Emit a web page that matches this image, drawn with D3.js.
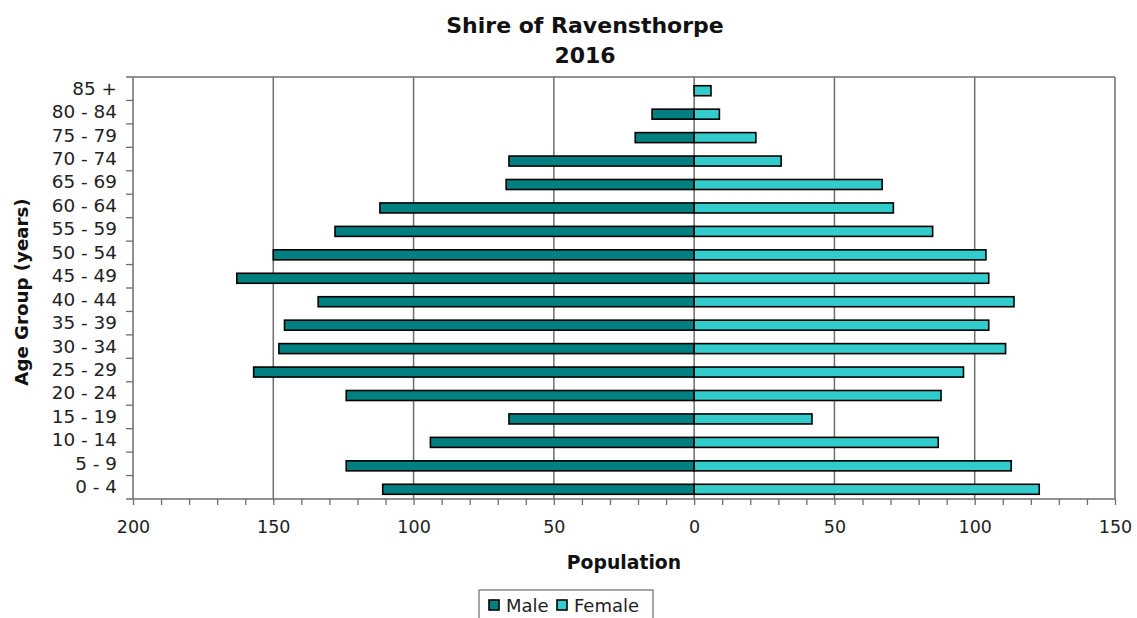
<!DOCTYPE html>
<html>
<head>
<meta charset="utf-8">
<script src="https://cdn.jsdelivr.net/npm/d3@7"></script>
<style>
  html, body { margin: 0; padding: 0; background: #fff; }
  svg { display: block; font-family: "DejaVu Sans", Verdana, sans-serif; }
</style>
</head>
<body>
<svg id="chart" width="1137" height="618"></svg>
<script>
// ---- data ----
const ageGroups = ["0 - 4","5 - 9","10 - 14","15 - 19","20 - 24","25 - 29","30 - 34","35 - 39","40 - 44","45 - 49","50 - 54","55 - 59","60 - 64","65 - 69","70 - 74","75 - 79","80 - 84","85 +"];
const maleValues   = [111,124,94,66,124,157,148,146,134,163,150,128,112,67,66,21,15,0];
const femaleValues = [123,113,87,42,88,96,111,105,114,105,104,85,71,67,31,22,9,6];
const xTickValues = [-200,-150,-100,-50,0,50,100,150];
const seriesNames = ["Male","Female"];
const seriesColors = ["#008080","#33CCCC"];
const titleLines = ["Shire of Ravensthorpe","2016"];

(function () {
const svg = d3.select("#chart");
const pL = 133, pR = 1115, pT = 77, pB = 499;

const x = d3.scaleLinear().domain([-200,150]).range([pL,pR]);
const y = d3.scaleBand().domain(ageGroups.slice().reverse()).range([pT,pB]).padding(0);

// grid lines
svg.append("g").selectAll("line").data(xTickValues.filter(v => v > -200 && v < 150))
  .join("line")
  .attr("x1", d => x(d)).attr("x2", d => x(d))
  .attr("y1", pT).attr("y2", pB)
  .attr("stroke", "#6e6e6e").attr("stroke-width", 1.5);

// border top/right
svg.append("line").attr("x1", pL-7).attr("x2", pR).attr("y1", pT).attr("y2", pT)
  .attr("stroke", "#6e6e6e").attr("stroke-width", 1.5);
svg.append("line").attr("x1", pR).attr("x2", pR).attr("y1", pT).attr("y2", pB)
  .attr("stroke", "#6e6e6e").attr("stroke-width", 1.5);

// bars
const rows = ageGroups.map((g,i) => ({g, m: maleValues[i], f: femaleValues[i]}));
const barH = 10, barOff = 2;
const bars = svg.append("g");
bars.selectAll("rect.m").data(rows.filter(d => d.m > 0)).join("rect")
  .attr("class", "m")
  .attr("x", d => x(-d.m)).attr("width", d => x(0) - x(-d.m))
  .attr("y", d => y(d.g) + y.bandwidth()/2 - barH/2 + barOff).attr("height", barH)
  .attr("fill", seriesColors[0]).attr("stroke", "#000").attr("stroke-width", 1.6);
bars.selectAll("rect.f").data(rows.filter(d => d.f > 0)).join("rect")
  .attr("class", "f")
  .attr("x", x(0)).attr("width", d => x(d.f) - x(0))
  .attr("y", d => y(d.g) + y.bandwidth()/2 - barH/2 + barOff).attr("height", barH)
  .attr("fill", seriesColors[1]).attr("stroke", "#000").attr("stroke-width", 1.6);

// x axis
const xAxis = svg.append("g").attr("transform", `translate(0,${pB})`)
  .call(d3.axisBottom(x).tickValues(d3.range(-200,151,10)).tickSize(6)
    .tickFormat(d => xTickValues.includes(d) ? Math.abs(d) : ""));
xAxis.select(".domain").attr("stroke", "#6e6e6e").attr("stroke-width", 1.5)
  .attr("d", `M${pL-7},0H${pR}`);
xAxis.selectAll(".tick line").attr("stroke", "#6e6e6e").attr("stroke-width", 1.3);
xAxis.selectAll(".tick text").attr("font-size", 17.5).attr("fill", "#222").attr("dy", "1.4em")
  .attr("font-family", "DejaVu Sans, Verdana, sans-serif");

// y axis
const yAxis = svg.append("g").attr("transform", `translate(${pL},0)`)
  .call(d3.axisLeft(y).tickSize(0).tickPadding(16));
yAxis.select(".domain").attr("stroke", "#6e6e6e").attr("stroke-width", 1.5)
  .attr("d", `M0,${pT}V${pB}`);
yAxis.selectAll(".tick text").attr("font-size", 18.4).attr("fill", "#222")
  .attr("font-family", "DejaVu Sans, Verdana, sans-serif");
// category boundary ticks
svg.append("g").selectAll("line").data(d3.range(1, ageGroups.length))
  .join("line")
  .attr("x1", pL-7).attr("x2", pL)
  .attr("y1", i => pT + i*y.bandwidth()).attr("y2", i => pT + i*y.bandwidth())
  .attr("stroke", "#6e6e6e").attr("stroke-width", 1.3);

// titles
svg.append("g").selectAll("text").data(titleLines).join("text")
  .attr("x", 585).attr("y", (d,i) => 33 + i*30)
  .attr("text-anchor", "middle").attr("font-size", 22).attr("font-weight", "bold")
  .attr("fill", "#111").text(d => d);

svg.append("text").attr("x", 624).attr("y", 569).attr("text-anchor", "middle")
  .attr("font-size", 18.8).attr("font-weight", "bold").attr("fill", "#111").text("Population");

svg.append("text").attr("transform", "translate(28,292) rotate(-90)").attr("text-anchor", "middle")
  .attr("font-size", 18.2).attr("font-weight", "bold").attr("fill", "#111").text("Age Group (years)");

// legend
const lg = svg.append("g");
lg.append("rect").attr("x", 479).attr("y", 590).attr("width", 174).attr("height", 40)
  .attr("fill", "#fff").attr("stroke", "#777").attr("stroke-width", 1.3);
const itemX = [489, 557];
seriesNames.forEach((n,i) => {
  lg.append("rect").attr("x", itemX[i]).attr("y", 600).attr("width", 10).attr("height", 10)
    .attr("fill", seriesColors[i]).attr("stroke", "#000").attr("stroke-width", 1.6);
  lg.append("text").attr("x", itemX[i] + 17).attr("y", 612).attr("font-size", 18)
    .attr("fill", "#222").text(n);
});
})();
</script>
</body>
</html>
